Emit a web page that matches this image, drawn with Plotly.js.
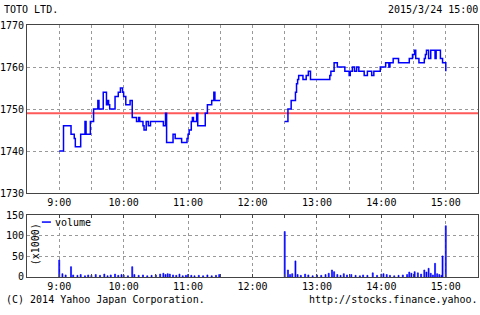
<!DOCTYPE html>
<html><head><meta charset="utf-8">
<script src="https://cdn.plot.ly/plotly-3.0.1.min.js"></script>
<style>html,body{margin:0;padding:0;background:#fff}#c{width:480px;height:315px}</style>
</head><body><div id="c"></div>
<script>
var day = '2015-03-24 ';
var prevClose = 1749;
var amTimes = ['09:00','09:04','09:11','09:14','09:15','09:20','09:24','09:25','09:29','09:32','09:36','09:37','09:41','09:44','09:45','09:46','09:47','09:52','09:55','09:57','09:59','10:00','10:02','10:06','10:08','10:12','10:14','10:15','10:18','10:19','10:21','10:23','10:25','10:37','10:39','10:40','10:46','10:48','10:54','10:59','11:00','11:01','11:03','11:04','11:05','11:08','11:09','11:16','11:18','11:22','11:24','11:25','11:30'];
var amPrice = [1740,1746,1744,1743,1741,1744,1747,1744,1747,1750,1752,1750,1754,1751,1752,1751,1750,1753,1754,1755,1754,1753,1751,1752,1748,1747,1748,1747,1746,1745,1747,1746,1747,1746,1749,1742,1744,1743,1742,1743,1744,1745,1747,1748,1747,1749,1746,1749,1751,1752,1754,1752,1752];
var pmTimes = ['12:30','12:33','12:36','12:40','12:41','12:42','12:43','12:47','12:50','12:52','12:54','13:12','13:13','13:16','13:19','13:26','13:30','13:31','13:33','13:35','13:37','13:39','13:44','13:47','13:51','13:53','13:59','14:04','14:07','14:08','14:11','14:16','14:26','14:29','14:31','14:32','14:35','14:40','14:41','14:42','14:44','14:46','14:50','14:51','14:55','14:57','15:00'];
var pmPrice = [1747,1750,1752,1754,1756,1757,1758,1757,1758,1759,1757,1758,1759,1761,1760,1759,1758,1759,1760,1759,1760,1759,1758,1759,1758,1759,1760,1761,1760,1761,1762,1761,1762,1763,1764,1762,1761,1762,1763,1764,1762,1764,1762,1764,1762,1761,1759];
var volTimes = ['09:00','09:03','09:06','09:11','09:13','09:17','09:20','09:24','09:27','09:30','09:34','09:38','09:42','09:45','09:48','09:52','09:55','09:58','10:00','10:04','10:08','10:10','10:14','10:18','10:22','10:26','10:30','10:34','10:37','10:39','10:41','10:43','10:46','10:49','10:52','10:55','10:58','11:00','11:03','11:06','11:10','11:14','11:18','11:22','11:26','11:29',
 '12:30','12:33','12:35','12:37','12:40','12:42','12:45','12:49','12:52','12:56','13:00','13:04','13:08','13:11','13:14','13:16','13:19','13:22','13:25','13:28','13:32','13:36','13:40','13:43','13:47','13:52','13:56','14:00','14:02','14:05','14:08','14:12','14:16','14:20','14:24','14:26','14:28','14:31','14:34','14:37','14:40','14:42','14:44','14:46','14:48','14:50','14:52','14:54','14:56','14:57','15:00'];
var volume = [41,8,5,25,5,4,6,3,5,4,6,4,7,3,5,7,4,6,5,3,25,6,4,5,3,4,5,7,9,6,8,7,5,4,7,3,4,6,4,3,4,3,5,3,4,6,
 110,17,6,8,39,6,4,7,5,3,5,4,6,9,17,13,6,4,8,5,6,4,3,5,4,10,4,7,8,6,4,3,4,5,6,12,9,13,10,7,17,12,21,9,5,33,8,6,4,51,124];
var hourTicks = ['09:00','10:00','11:00','12:00','13:00','14:00','15:00'];
var halfTicks = ['09:00','09:30','10:00','10:30','11:00','11:30','12:00','12:30','13:00','13:30','14:00','14:30','15:00'];

function full(a){return a.map(function(t){return day+t;});}
var px = full(amTimes).concat([day+'12:00']).concat(full(pmTimes));
var py = amPrice.concat([null]).concat(pmPrice);

var F = 'DejaVu Sans Mono';
var xr = [day+'08:30', day+'15:30'];
var grid = {showgrid:true, gridcolor:'#999', griddash:'dot', gridwidth:1};

var traces = [
 {x:px, y:py, type:'scatter', mode:'lines', line:{shape:'hv', color:'#0000ff', width:1.5}, xaxis:'x2', yaxis:'y2', connectgaps:false, showlegend:false, hoverinfo:'skip'},
 {x:full(volTimes), y:volume, type:'bar', width:60000, marker:{color:'#0000ff', line:{width:0.6,color:'#0000ff'}}, xaxis:'x', yaxis:'y', showlegend:false, hoverinfo:'skip'}
];

var layout = {
 width:480, height:315,
 margin:{l:27, r:2, t:25, b:38},
 paper_bgcolor:'#fff', plot_bgcolor:'#fff',
 font:{family:F, size:10, color:'#000'},
 showlegend:false,
 bargap:0,
 xaxis2: Object.assign({type:'date', range:xr, anchor:'y2', domain:[0,1], tickvals:full(halfTicks),
   ticktext:halfTicks.map(function(t){return t.slice(3)==='00'?String(+t.slice(0,2))+':00':'';}),
   ticks:'', showline:true, linecolor:'#444', linewidth:1, mirror:true, zeroline:false, tickfont:{family:F,size:10}}, grid),
 yaxis2: Object.assign({range:[1730,1770], anchor:'x2', domain:[0.3333,1], dtick:10, tick0:1730, ticks:'',
   showline:true, linecolor:'#444', linewidth:1, mirror:true, zeroline:false, tickfont:{family:F,size:10}}, grid),
 xaxis: Object.assign({type:'date', range:xr, anchor:'y', domain:[0,1], tickvals:full(hourTicks),
   ticktext:hourTicks.map(function(t){return String(+t.slice(0,2))+':00';}),
   ticks:'', showline:true, linecolor:'#444', linewidth:1, mirror:'allticks', zeroline:false, tickfont:{family:F,size:10},
   minor:{tickvals:full(halfTicks), ticks:'inside', ticklen:3, tickcolor:'#444', showgrid:false}}, grid),
 yaxis: Object.assign({range:[0,150], anchor:'x', domain:[0,0.246], dtick:50, tick0:0, ticks:'',
   showline:true, linecolor:'#444', linewidth:1, mirror:true, zeroline:false, tickfont:{family:F,size:10}}, grid),
 shapes:[
  {type:'line', xref:'x2 domain', yref:'y2', x0:0, x1:1, y0:prevClose, y1:prevClose, line:{color:'#ff5a5a', width:2}, layer:'below'},
  {type:'line', xref:'paper', yref:'paper', x0:0.033, x1:0.053, y0:0.218, y1:0.218, line:{color:'#0000ff', width:1.5}}
 ],
 annotations:[
  {text:'TOTO LTD.', xref:'paper', yref:'paper', x:-0.0554, y:1.0615, xanchor:'left', yanchor:'middle', showarrow:false, font:{family:F,size:10}},
  {text:'2015/3/24 15:00', xref:'paper', yref:'paper', x:1.0044, y:1.0615, xanchor:'right', yanchor:'middle', showarrow:false, font:{family:F,size:10}},
  {text:'(C) 2014 Yahoo Japan Corporation.', xref:'paper', yref:'paper', x:-0.051, y:-0.090, xanchor:'left', yanchor:'middle', showarrow:false, font:{family:F,size:10}},
  {text:'http://stocks.finance.yahoo.', xref:'paper', yref:'paper', x:1.0044, y:-0.090, xanchor:'right', yanchor:'middle', showarrow:false, font:{family:F,size:10}},
  {text:'volume', xref:'paper', yref:'paper', x:0.058, y:0.218, xanchor:'left', yanchor:'middle', showarrow:false, font:{family:F,size:10}},
  {text:'(x1000)', xref:'paper', yref:'paper', x:0.018, y:0.13, xanchor:'center', yanchor:'middle', textangle:-90, showarrow:false, font:{family:F,size:10}}
 ]
};
Plotly.newPlot('c', traces, layout, {staticPlot:true, displayModeBar:false});
</script></body></html>
